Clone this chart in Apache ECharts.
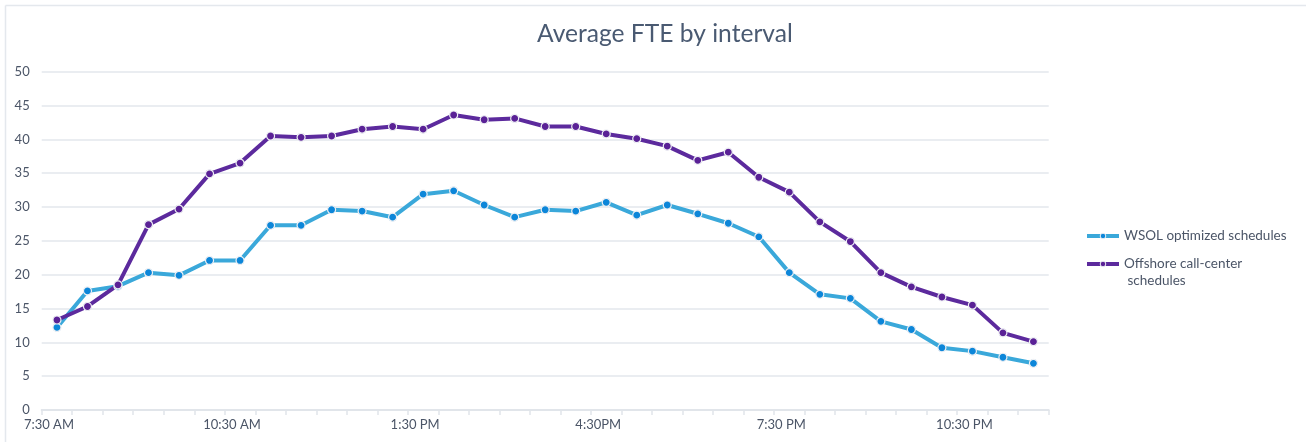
<!DOCTYPE html>
<html>
<head>
<meta charset="utf-8">
<script src="https://cdn.jsdelivr.net/npm/echarts@6/dist/echarts.min.js"></script>
<style>
html,body{margin:0;padding:0;background:#fff;}
#c{width:1306px;height:442px;}
</style>
</head>
<body>
<div id="c"></div>
<script>
var categories = ['7:30 AM','8:00 AM','8:30 AM','9:00 AM','9:30 AM','10:00 AM','10:30 AM','11:00 AM','11:30 AM',
  '12:00 PM','12:30 PM','1:00 PM','1:30 PM','2:00 PM','2:30 PM','3:00 PM','3:30 PM','4:00 PM','4:30PM',
  '5:00 PM','5:30 PM','6:00 PM','6:30 PM','7:00 PM','7:30 PM','8:00 PM','8:30 PM','9:00 PM','9:30 PM',
  '10:00 PM','10:30 PM','11:00 PM','11:30 PM'];
var wsol = [12.2,17.6,18.3,20.3,19.9,22.1,22.1,27.3,27.3,29.6,29.4,28.5,31.9,32.4,30.3,28.5,29.6,29.4,30.7,
  28.8,30.3,29.0,27.6,25.6,20.3,17.1,16.5,13.1,11.9,9.2,8.7,7.8,6.9];
var offshore = [13.3,15.3,18.5,27.4,29.7,34.9,36.5,40.5,40.3,40.5,41.5,41.9,41.5,43.6,42.9,43.1,41.9,41.9,40.8,
  40.1,39.0,36.9,38.1,34.4,32.2,27.8,24.9,20.3,18.2,16.7,15.5,11.4,10.1];
var seriesNames = ['WSOL optimized schedules','Offshore call-center schedules'];
var yTicks = {min:0, max:50, interval:5};

var chart = echarts.init(document.getElementById('c'));
var labelColor = '#4b5567';
var legendBase = {
  orient:'vertical', left:1085, padding:0, itemWidth:32, itemHeight:7,
  lineStyle:{width:4}, itemStyle:{borderWidth:1},
  textStyle:{fontFamily:'Lato', fontSize:13.5, color:'#4b5567', lineHeight:17}
};
chart.setOption({
  animation:false,
  title:{text:'Average FTE by interval', left:532, top:16.5,
    textStyle:{fontFamily:'Lato', fontSize:24.6, fontWeight:'normal', color:'#4a5a72'}},
  graphic:[
    {type:'line', shape:{x1:5.5,y1:5.5,x2:1306,y2:5.5}, style:{stroke:'#e4e8ed', lineWidth:1.5}},
    {type:'line', shape:{x1:5.5,y1:5.5,x2:5.5,y2:442}, style:{stroke:'#e4e8ed', lineWidth:1.5}}
  ],
  legend:[
    Object.assign({}, legendBase, {top:227.5, data:[seriesNames[0]]}),
    Object.assign({}, legendBase, {top:238.5, data:[seriesNames[1]],
      formatter:function(n){ return ' \nOffshore call-center\n schedules'; }})
  ],
  grid:{left:41.7, right:257.3, top:71.7, bottom:32, containLabel:false},
  xAxis:{
    type:'category', data:categories, boundaryGap:true,
    axisLine:{lineStyle:{color:'#e1e5ea', width:2}},
    axisTick:{show:true, interval:0, length:5, lineStyle:{color:'#e1e5ea', width:1.5}},
    axisLabel:{interval:5, color:labelColor, fontFamily:'Lato', fontSize:13, margin:8, padding:[0,16,0,0]},
    splitLine:{show:false}
  },
  yAxis:{
    type:'value', min:yTicks.min, max:yTicks.max, interval:yTicks.interval,
    axisLine:{show:false}, axisTick:{show:false},
    axisLabel:{color:labelColor, fontFamily:'Lato', fontSize:13, margin:12},
    splitLine:{lineStyle:{color:'#e3e7ec', width:1.5}}
  },
  series:[
    {name:seriesNames[0], type:'line', data:wsol, symbol:'circle', symbolSize:8,
      lineStyle:{color:'#3aa8da', width:4},
      itemStyle:{color:'#0c86d9', borderColor:'#eef0f4', borderWidth:1.2}},
    {name:seriesNames[1], type:'line', data:offshore, symbol:'circle', symbolSize:8,
      lineStyle:{color:'#5c2a9d', width:4},
      itemStyle:{color:'#5a2196', borderColor:'#eef0f4', borderWidth:1.2}}
  ]
});
</script>
</body>
</html>
